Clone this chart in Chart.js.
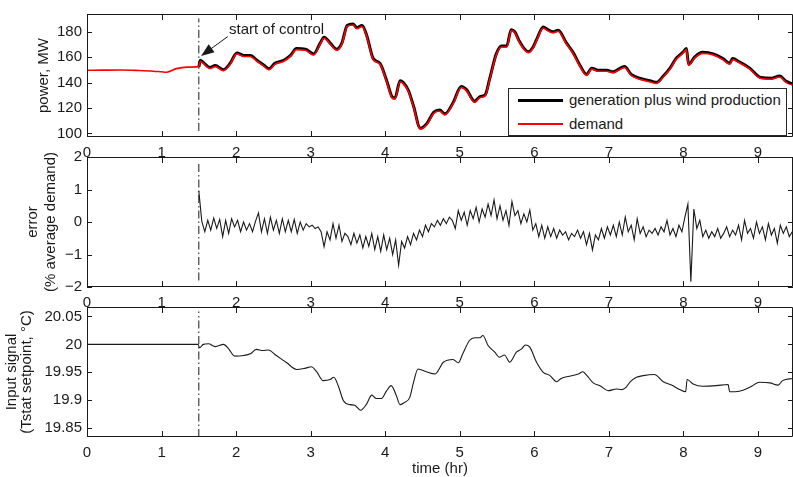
<!DOCTYPE html>
<html>
<head>
<meta charset="utf-8">
<script src="https://cdn.jsdelivr.net/npm/chart.js@4.4.1/dist/chart.umd.min.js"></script>
<style>
    body { margin: 0; background: #fff; }
    #wrap { position: relative; width: 793px; height: 477px; overflow: hidden; font-family: "Liberation Sans", Arial, sans-serif; color: #1a1a1a; }
    #wrap canvas { position: absolute; left: 0; top: 0; }
    #legend { position: absolute; left: 508px; top: 88px; width: 277px; height: 46px; border: 1px solid #262626; background: #fff; }
    #legend .sw { position: absolute; left: 9px; width: 45px; }
    #legend .txt { position: absolute; left: 60px; font-size: 15px; line-height: 18px; white-space: nowrap; }
</style>
</head>
<body>
<div id="wrap">
    <canvas id="powerChart" width="793" height="477"></canvas>
    <canvas id="errorChart" width="793" height="477"></canvas>
    <canvas id="setpointChart" width="793" height="477"></canvas>
    <div id="legend">
        <div class="sw" style="top:10px; height:3px; background:#000;"></div>
        <div class="txt" style="top:2px;">generation plus wind production</div>
        <div class="sw" style="top:34px; height:2px; background:#f00;"></div>
        <div class="txt" style="top:26px;">demand</div>
    </div>
</div>
<script>
// ---- data ----
const xMax = 9.47;
const controlTime = 1.5;

// top panel: power, MW
const powerTime = [0, 0.2, 0.45, 0.7, 0.89, 1.0, 1.07, 1.2, 1.34,
    1.5, 1.52, 1.56, 1.65, 1.72, 1.83, 1.92, 2.01, 2.1, 2.19,
    2.28, 2.37, 2.44, 2.52, 2.64, 2.73, 2.81, 2.93, 3.04, 3.13,
    3.18, 3.26, 3.35, 3.42, 3.49, 3.57, 3.62, 3.69, 3.75, 3.84,
    3.93, 4.02, 4.09, 4.13, 4.2, 4.24, 4.31, 4.38, 4.47, 4.56,
    4.65, 4.73, 4.8, 4.91, 5.02, 5.09, 5.2, 5.27, 5.34, 5.4,
    5.49, 5.56, 5.63, 5.69, 5.74, 5.8, 5.92, 5.98, 6.03, 6.12,
    6.18, 6.25, 6.32, 6.43, 6.52, 6.61, 6.7, 6.77, 6.855, 6.97,
    7.06, 7.12, 7.21, 7.3, 7.41, 7.55, 7.64, 7.73, 7.82, 7.9,
    7.99, 8.04, 8.07, 8.15, 8.26, 8.4, 8.53, 8.62, 8.66, 8.75,
    8.89, 9.04, 9.18, 9.29, 9.38, 9.47];
const demandMW = [149.7, 149.8, 149.9, 149.5, 149.0, 148.5, 148.2, 151.0, 152.2,
    152.6, 156.8, 155.1, 151.1, 152.6, 149.4, 154.4, 162.6, 160.6, 160.6,
    156.8, 153.1, 150.1, 154.4, 156.8, 160.6, 166.0, 165.5, 161.8, 170.5,
    175.0, 170.5, 165.5, 170.5, 184.2, 185.4, 182.4, 184.2, 176.7, 158.1,
    154.4, 140.7, 128.2, 127.0, 140.7, 139.4, 133.2, 120.8, 103.4, 107.1,
    115.8, 117.7, 114.6, 123.3, 136.2, 133.7, 124.5, 128.2, 129.5, 141.9,
    161.8, 168.0, 168.0, 180.9, 179.2, 171.7, 163.5, 166.8, 173.0, 182.9,
    180.9, 179.2, 180.4, 170.5, 163.0, 153.1, 145.7, 150.6, 148.9, 148.9,
    147.7, 149.4, 151.9, 145.7, 142.7, 140.7, 139.4, 144.4, 150.6, 158.1,
    163.0, 166.0, 153.6, 159.3, 163.0, 161.8, 158.1, 154.4, 158.1, 155.6,
    150.6, 143.2, 142.7, 144.4, 140.2, 138.0];
// generation only exists once control starts (powerTime from index 9)
const generationMW = [152.3, 157.6, 155.9, 151.9, 153.4, 150.2, 155.2, 163.4, 161.4, 161.4,
    157.6, 153.9, 150.9, 155.2, 157.6, 161.4, 166.8, 166.3, 162.6, 171.3,
    175.8, 171.3, 166.3, 171.3, 185.0, 186.2, 183.2, 185.0, 177.5, 158.9,
    155.2, 141.5, 129.0, 127.8, 141.5, 140.2, 134.0, 121.6, 104.2, 107.9,
    116.6, 118.5, 115.4, 124.1, 137.0, 134.5, 125.3, 129.0, 130.3, 142.7,
    162.6, 168.8, 168.8, 181.7, 180.0, 172.5, 164.3, 167.6, 173.8, 183.7,
    181.7, 180.0, 181.2, 171.3, 163.8, 153.9, 146.5, 151.4, 149.7, 149.7,
    148.5, 150.2, 152.7, 146.5, 143.5, 141.5, 140.2, 145.2, 151.4, 158.9,
    163.8, 166.8, 154.4, 160.1, 163.8, 162.6, 158.9, 155.2, 158.9, 156.4,
    151.4, 144.0, 143.5, 145.2, 141.0, 138.8];
const generationStart = 9;

// middle panel: error, % of average demand, sampled every 0.04 hr from 1.5 hr
const errorStart = 1.5;
const errorStep = 0.04;
const errorPct = [
    0.95, 0.02, -0.30, 0.05, -0.25, 0.12, -0.20, 0.08, -0.45, 0.05,
    -0.35, 0.10, -0.15, 0.05, -0.30, 0.00, -0.25, -0.05, -0.30, 0.02,
    0.28, -0.30, 0.10, -0.35, 0.15, -0.25, 0.05, -0.35, 0.10, -0.30,
    0.05, -0.30, 0.08, -0.35, 0.00, -0.25, -0.05, -0.15, -0.10, -0.20,
    -0.15, -0.30, -0.76, -0.30, -0.55, -0.05, -0.50, -0.10, -0.60, -0.35,
    -0.45, -0.70, -0.35, -0.65, -0.40, -0.80, -0.45, -0.75, -0.35, -0.85,
    -0.45, -0.90, -0.40, -0.85, -0.50, -1.00, -0.55, -1.33, -0.60, -0.80,
    -0.45, -0.70, -0.35, -0.55, -0.25, -0.45, -0.10, -0.30, -0.05, -0.15,
    0.05, -0.10, 0.10, -0.05, 0.15, 0.05, -0.20, 0.35, 0.05, 0.30,
    -0.10, 0.35, 0.10, 0.45, 0.00, 0.40, 0.15, 0.55, 0.20, 0.68,
    0.10, 0.50, 0.05, 0.35, -0.10, 0.63, 0.20, 0.35, -0.05, 0.25,
    0.00, 0.37, -0.25, -0.05, -0.45, -0.10, -0.50, -0.15, -0.45, -0.20,
    -0.50, -0.25, -0.40, -0.30, -0.55, -0.35, -0.45, -0.25, -0.50, -0.30,
    -0.70, -0.35, -0.86, -0.40, -0.55, -0.20, -0.50, -0.15, -0.40, -0.10,
    -0.45, 0.00, -0.40, 0.15, -0.30, -0.10, -0.55, 0.10, -0.35, -0.15,
    -0.45, -0.25, -0.35, -0.20, -0.40, -0.15, -0.30, 0.05, -0.40, -0.20,
    -0.45, -0.10, -0.30, 0.15, 0.55, -1.84, 0.40, -0.20, 0.05, -0.45,
    -0.25, -0.50, -0.30, -0.45, -0.20, -0.50, -0.35, -0.15, -0.45, -0.25,
    -0.40, -0.10, -0.55, 0.05, -0.35, -0.20, -0.50, 0.00, -0.35, -0.15,
    -0.55, -0.05, -0.40, -0.20, -0.65, -0.10, -0.35, -0.15, -0.45, -0.30];

// bottom panel: thermostat setpoint, deg C
const setpointTime = [0, 1.49, 1.51, 1.56, 1.63, 1.72, 1.83, 1.9, 1.98, 2.1,
    2.19, 2.27, 2.36, 2.43, 2.54, 2.68, 2.81, 2.92, 3.01, 3.08,
    3.17, 3.26, 3.31, 3.37, 3.44, 3.53, 3.59, 3.67, 3.75, 3.82,
    3.88, 3.95, 4.02, 4.08, 4.15, 4.2, 4.26, 4.33, 4.38, 4.44,
    4.55, 4.67, 4.78, 4.91, 4.98, 5.04, 5.13, 5.2, 5.27, 5.31,
    5.38, 5.47, 5.53, 5.6, 5.67, 5.76, 5.83, 5.88, 5.94, 6.03,
    6.12, 6.21, 6.3, 6.36, 6.47, 6.59, 6.65, 6.7, 6.79, 6.88,
    6.99, 7.1, 7.17, 7.23, 7.28, 7.37, 7.46, 7.61, 7.73, 7.84,
    7.95, 8.03, 8.05, 8.13, 8.26, 8.44, 8.6, 8.62, 8.75, 8.89,
    9.02, 9.16, 9.27, 9.33, 9.47];
const setpointC = [20.0, 20.0, 19.994, 20.0, 20.001, 19.996, 20.0, 19.992, 19.979, 19.98,
    19.983, 19.991, 19.989, 19.99, 19.98, 19.967, 19.955, 19.957, 19.96, 19.951,
    19.935, 19.937, 19.941, 19.926, 19.899, 19.892, 19.891, 19.882, 19.893, 19.909,
    19.903, 19.903, 19.917, 19.926, 19.908, 19.892, 19.896, 19.905, 19.932, 19.956,
    19.951, 19.947, 19.968, 19.973, 19.967, 19.983, 20.007, 20.012, 20.012, 20.016,
    19.998, 19.986, 19.977, 19.981, 19.968, 19.986, 19.992, 19.999, 19.995, 19.968,
    19.95, 19.944, 19.933, 19.939, 19.943, 19.947, 19.951, 19.945, 19.931, 19.926,
    19.917, 19.92, 19.919, 19.923, 19.932, 19.941, 19.944, 19.946, 19.933, 19.927,
    19.919, 19.915, 19.937, 19.929, 19.925, 19.926, 19.928, 19.915, 19.916, 19.923,
    19.932, 19.931, 19.927, 19.935, 19.939];

// extent of the dash-dot "start of control" marker in each panel
const controlSpanPower = [102, 190.5];
const controlSpanError = [-1.8, 1.85];
const controlSpanSetpoint = [19.834, 20.059];

// ---- styling ----
const FONT = '"Liberation Sans", Arial, sans-serif';
const INK = '#1a1a1a';
Chart.defaults.font.family = FONT;
Chart.defaults.font.size = 15;
Chart.defaults.color = INK;

const toPoints = (xs, ys) => ys.map((y, i) => ({ x: xs[i], y: y }));
const minusSign = v => (v < 0 ? '\u2212' + Math.abs(v) : String(v));

// MATLAB style box with inward ticks on all four sides
const framePlugin = {
    id: 'frame',
    afterDatasetsDraw(chart) {
        const { ctx, chartArea: a, scales: { x, y } } = chart;
        ctx.save();
        ctx.strokeStyle = INK;
        ctx.lineWidth = 1;
        ctx.beginPath();
        ctx.rect(Math.round(a.left) + 0.5, Math.round(a.top) + 0.5, Math.round(a.width) - 1, Math.round(a.height) - 1);
        x.ticks.forEach(t => {
            const px = Math.round(x.getPixelForValue(t.value)) + 0.5;
            ctx.moveTo(px, a.top); ctx.lineTo(px, a.top + 6);
            ctx.moveTo(px, a.bottom); ctx.lineTo(px, a.bottom - 6);
        });
        y.ticks.forEach(t => {
            const py = Math.round(y.getPixelForValue(t.value)) + 0.5;
            ctx.moveTo(a.left, py); ctx.lineTo(a.left + 5, py);
            ctx.moveTo(a.right, py); ctx.lineTo(a.right - 5, py);
        });
        ctx.stroke();
        ctx.restore();
    }
};

// "start of control" arrow, placed in data units
const noteText = 'start of control';
const noteAt = [1.905, 181.6];
const arrowFrom = [1.89, 176.3];
const arrowTo = [1.53, 161.0];

const notePlugin = {
    id: 'startNote',
    afterDatasetsDraw(chart) {
        const { ctx, scales: { x, y } } = chart;
        const x0 = x.getPixelForValue(arrowFrom[0]), y0 = y.getPixelForValue(arrowFrom[1]);
        const x1 = x.getPixelForValue(arrowTo[0]), y1 = y.getPixelForValue(arrowTo[1]);
        const ang = Math.atan2(y1 - y0, x1 - x0);
        const len = 13, half = 5;
        ctx.save();
        ctx.strokeStyle = INK;
        ctx.fillStyle = INK;
        ctx.lineWidth = 1;
        ctx.beginPath();
        ctx.moveTo(x0, y0);
        ctx.lineTo(x1 - Math.cos(ang) * len * 0.8, y1 - Math.sin(ang) * len * 0.8);
        ctx.stroke();
        const bx = x1 - Math.cos(ang) * len, by = y1 - Math.sin(ang) * len;
        ctx.beginPath();
        ctx.moveTo(x1, y1);
        ctx.lineTo(bx + Math.sin(ang) * half, by - Math.cos(ang) * half);
        ctx.lineTo(bx - Math.sin(ang) * half, by + Math.cos(ang) * half);
        ctx.closePath();
        ctx.fill();
        ctx.font = '15px ' + FONT;
        ctx.textAlign = 'left';
        ctx.textBaseline = 'middle';
        ctx.fillText(noteText, x.getPixelForValue(noteAt[0]), y.getPixelForValue(noteAt[1]));
        ctx.restore();
    }
};

function panelOptions(cfg) {
    return {
        responsive: false,
        animation: false,
        devicePixelRatio: 1,
        layout: { padding: { top: cfg.top, bottom: cfg.bottom, left: 0, right: 0 } },
        plugins: { legend: { display: false }, tooltip: { enabled: false } },
        elements: { point: { radius: 0 } },
        scales: {
            x: {
                type: 'linear',
                min: 0,
                max: xMax,
                grid: { display: false, drawTicks: false },
                border: { display: false },
                ticks: { stepSize: 1, autoSkip: false, maxRotation: 0, padding: 7, includeBounds: false, color: INK },
                title: cfg.xTitle
                    ? { display: true, text: cfg.xTitle, color: INK, font: { size: 15, lineHeight: 1.0 }, padding: { top: 0, bottom: 1 } }
                    : { display: false },
                afterFit(scale) { scale.height = cfg.xHeight; }
            },
            y: {
                type: 'linear',
                min: cfg.yMin,
                max: cfg.yMax,
                grid: { display: false, drawTicks: false },
                border: { display: false },
                ticks: { stepSize: cfg.yStep, padding: 5, includeBounds: false, color: INK, callback: cfg.yFormat },
                title: { display: true, text: cfg.yTitle, color: INK, font: { size: 15, lineHeight: cfg.titleLine }, padding: { top: cfg.titlePad, bottom: 0 } },
                afterFit(scale) { scale.width = 87; }
            }
        }
    };
}

function controlLine(span) {
    return {
        label: 'start of control',
        data: [{ x: controlTime, y: span[0] }, { x: controlTime, y: span[1] }],
        borderColor: INK,
        borderWidth: 1,
        borderDash: [8, 3, 1.5, 3],
        order: 5
    };
}

// top: power
new Chart(document.getElementById('powerChart'), {
    type: 'line',
    data: {
        datasets: [
            {
                label: 'generation plus wind production',
                data: toPoints(powerTime.slice(generationStart), generationMW),
                borderColor: '#000',
                borderWidth: 3,
                cubicInterpolationMode: 'monotone',
                order: 1
            },
            {
                label: 'demand',
                data: toPoints(powerTime, demandMW),
                borderColor: '#f00',
                borderWidth: 1.6,
                cubicInterpolationMode: 'monotone',
                order: 0
            },
            controlLine(controlSpanPower)
        ]
    },
    options: panelOptions({
        top: 7, bottom: 310, xHeight: 30,
        yMin: 97.2, yMax: 194, yStep: 20,
        yTitle: 'power, MW', titlePad: 35, titleLine: 1.2,
        yFormat: v => String(v)
    }),
    plugins: [framePlugin, notePlugin]
});

// middle: error
new Chart(document.getElementById('errorChart'), {
    type: 'line',
    data: {
        datasets: [
            {
                label: 'error',
                data: errorPct.map((v, i) => ({ x: errorStart + i * errorStep, y: v })),
                borderColor: INK,
                borderWidth: 1.1,
                tension: 0,
                order: 0
            },
            controlLine(controlSpanError)
        ]
    },
    options: panelOptions({
        top: 157, bottom: 160, xHeight: 30,
        yMin: -2, yMax: 2, yStep: 1,
        yTitle: ['error', '(% average demand)'], titlePad: 24, titleLine: 1.2,
        yFormat: minusSign
    }),
    plugins: [framePlugin]
});

// bottom: setpoint
new Chart(document.getElementById('setpointChart'), {
    type: 'line',
    data: {
        datasets: [
            {
                label: 'input signal',
                data: toPoints(setpointTime, setpointC),
                borderColor: INK,
                borderWidth: 1.1,
                cubicInterpolationMode: 'monotone',
                order: 0
            },
            controlLine(controlSpanSetpoint)
        ]
    },
    options: panelOptions({
        top: 307, bottom: 0, xHeight: 40, xTitle: 'time (hr)',
        yMin: 19.834, yMax: 20.067, yStep: 0.05,
        yTitle: ['Input signal', '(Tstat setpoint, \u00B0C)'], titlePad: 4.5, titleLine: 1.0,
        yFormat: v => String(Number(v.toFixed(2)))
    }),
    plugins: [framePlugin]
});
</script>
</body>
</html>
